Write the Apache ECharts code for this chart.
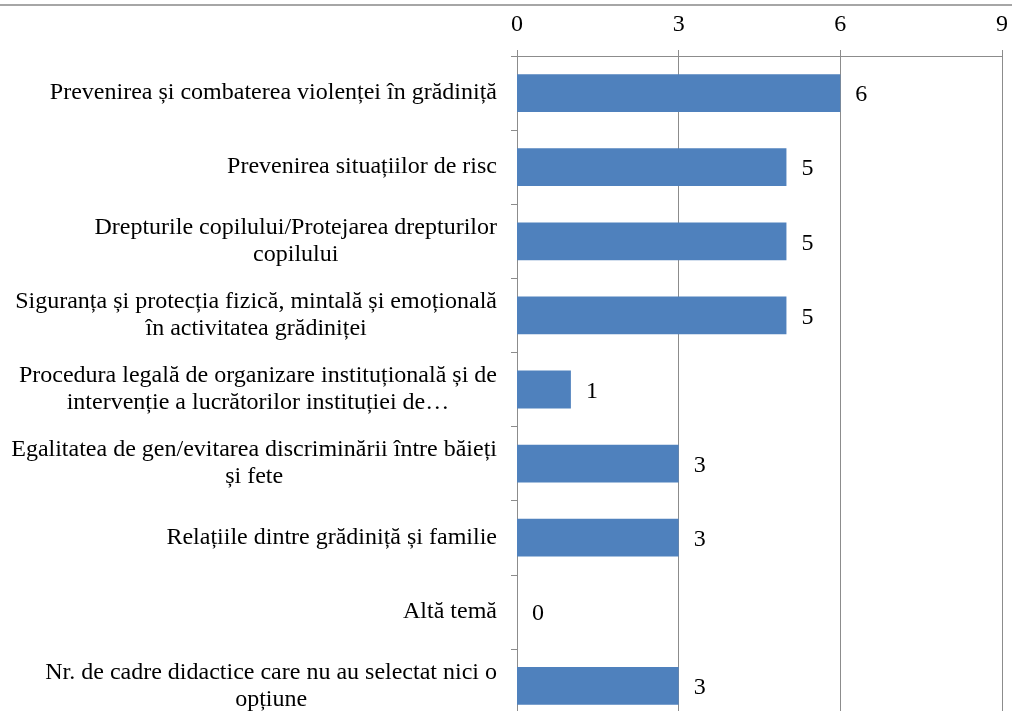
<!DOCTYPE html>
<html>
<head>
<meta charset="utf-8">
<script src="https://cdn.jsdelivr.net/npm/echarts@6/dist/echarts.min.js"></script>
<style>
  html, body { margin: 0; padding: 0; background: #fff; }
  #chart { width: 1012px; height: 711px; }
</style>
</head>
<body>
<div id="chart"></div>
<script>
// categorii (de sus in jos)
const categories = [
  'Prevenirea și combaterea violenței în grădiniță',
  'Prevenirea situațiilor de risc',
  'Drepturile copilului/Protejarea drepturilor\ncopilului',
  'Siguranța și protecția fizică, mintală și emoțională\nîn activitatea grădiniței',
  'Procedura legală de organizare instituțională și de\nintervenție a lucrătorilor instituției de…',
  'Egalitatea de gen/evitarea discriminării între băieți\nși fete',
  'Relațiile dintre grădiniță și familie',
  'Altă temă',
  'Nr. de cadre didactice care nu au selectat nici o\nopțiune'
]
const values = [6, 5, 5, 5, 1, 3, 3, 0, 3]
const axisMin = 0
const axisMax = 9
const axisStep = 3

const font = '"Liberation Serif", "DejaVu Serif", serif'
const gray = '#8c8c8c'

const myCharts = echarts.init(document.getElementById('chart'))
const option = {
  animation: false,
  graphic: [
    {
      type: 'line',
      shape: { x1: 0, y1: 5, x2: 1012, y2: 5 },
      style: { stroke: '#a6a6a6', lineWidth: 2 }
    }
  ],
  grid: {
    left: 517,
    right: 10,
    top: 56,
    height: 667,
    outerBoundsMode: 'none'
  },
  xAxis: {
    type: 'value',
    position: 'top',
    min: axisMin,
    max: axisMax,
    interval: axisStep,
    axisLine: { show: true, lineStyle: { color: gray, width: 1 } },
    axisTick: { show: true, length: 6, lineStyle: { color: gray } },
    splitLine: { show: true, lineStyle: { color: gray, width: 1 } },
    axisLabel: {
      margin: 19,
      fontFamily: font,
      fontSize: 24,
      color: '#000'
    }
  },
  yAxis: {
    type: 'category',
    inverse: true,
    data: categories,
    axisLine: { show: true, lineStyle: { color: gray, width: 1 } },
    axisTick: { show: true, length: 6, lineStyle: { color: gray } },
    axisLabel: {
      margin: 20,
      fontFamily: font,
      fontSize: 24,
      color: '#000',
      lineHeight: 27,
      formatter: function (v) {
        return '{c|' + v + '}'
      },
      rich: {
        c: { align: 'center', fontFamily: font, fontSize: 24, lineHeight: 27, color: '#000' }
      }
    }
  },
  series: [
    {
      type: 'bar',
      data: values,
      barCategoryGap: '49%',
      itemStyle: { color: '#4f81bd' },
      label: {
        show: true,
        position: 'right',
        distance: 15,
        offset: [0, 2],
        fontFamily: font,
        fontSize: 24,
        color: '#000'
      }
    }
  ]
}
myCharts.setOption(option)
</script>
</body>
</html>
